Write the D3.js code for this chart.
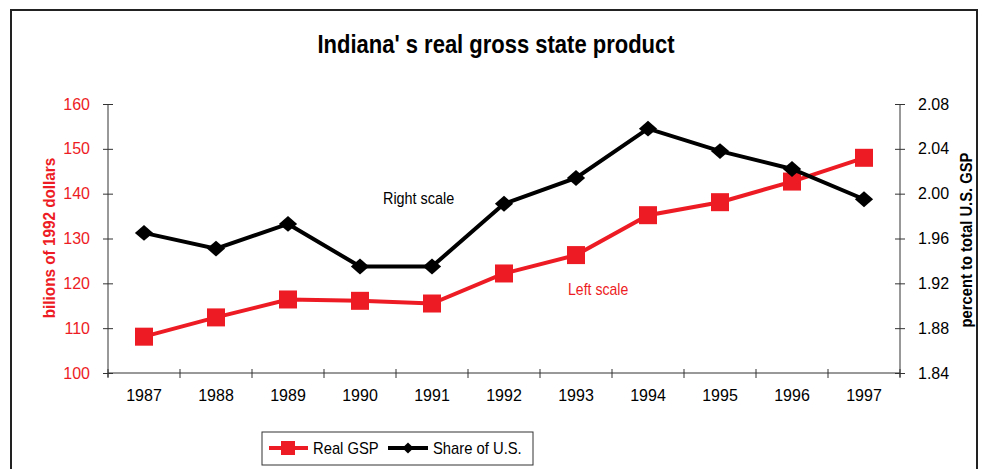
<!DOCTYPE html>
<html>
<head>
<meta charset="utf-8">
<script src="https://cdn.jsdelivr.net/npm/d3@7"></script>
<style>
  body { margin: 0; background: #fff; }
  svg text { font-family: "Liberation Sans", Arial, sans-serif; }
</style>
</head>
<body>
<div id="chart"></div>
<script>
// chart values
var years = ['1987', '1988', '1989', '1990', '1991', '1992', '1993', '1994', '1995', '1996', '1997'];
var realGsp = [108.1, 112.4, 116.4, 116.1, 115.5, 122.2, 126.3, 135.2, 138.1, 142.7, 148.0];
var shareUs = [1.965, 1.951, 1.973, 1.935, 1.935, 1.991, 2.014, 2.058, 2.038, 2.022, 1.995];
var leftTicks = [100, 110, 120, 130, 140, 150, 160];
var rightTicks = [1.84, 1.88, 1.92, 1.96, 2.00, 2.04, 2.08];

var red = '#ed1c24';
var W = 986, H = 469;
var plot = {left: 108, right: 900, top: 104, bottom: 373};

var svg = d3.select('#chart').append('svg')
    .attr('width', W)
    .attr('height', H);

// text squeezed sideways, the original uses a narrow face
function label(x, y, txt, o){
    var g = svg.append('g')
        .attr('transform', 'translate(' + x + ',' + y + ')' + (o.rotate ? ' rotate(' + o.rotate + ')' : '') +
            ' scale(' + (o.sx || 1) + ',1)');
    return g.append('text')
        .attr('text-anchor', o.anchor || 'start')
        .attr('fill', o.fill || '#000')
        .style('font-size', o.size + 'px')
        .style('font-weight', o.bold ? 'bold' : 'normal')
        .text(txt);
}

// outer frame (runs off the bottom of the picture)
svg.append('rect')
    .attr('x', 11).attr('y', 10)
    .attr('width', 966).attr('height', 480)
    .attr('fill', 'none')
    .attr('stroke', '#222')
    .attr('stroke-width', 2);

label(496, 53, "Indiana' s real gross state product", {size: 25, bold: true, sx: 0.88, anchor: 'middle'});

var x = d3.scaleBand().domain(years).range([plot.left, plot.right]);
var yL = d3.scaleLinear().domain([100, 160]).range([plot.bottom, plot.top]);
var yR = d3.scaleLinear().domain([1.84, 2.08]).range([plot.bottom, plot.top]);

// x axis, ticks between categories
var gx = svg.append('g')
    .attr('transform', 'translate(0,' + plot.bottom + ')');
gx.append('line')
    .attr('x1', plot.left).attr('x2', plot.right)
    .attr('stroke', '#333');
var edges = years.map(function(d){ return x(d); }).concat([plot.right]);
gx.selectAll('.xt').data(edges).enter().append('line')
    .attr('x1', function(d){ return d; }).attr('x2', function(d){ return d; })
    .attr('y1', -4).attr('y2', 5)
    .attr('stroke', '#333');
gx.selectAll('.xl').data(years).enter().append('text')
    .attr('x', function(d){ return x(d) + x.bandwidth() / 2; })
    .attr('y', 28)
    .attr('text-anchor', 'middle')
    .style('font-size', '16px')
    .attr('fill', '#000')
    .text(function(d){ return d; });

// left axis
var gl = svg.append('g')
    .attr('transform', 'translate(' + plot.left + ',0)')
    .call(d3.axisLeft(yL).tickValues(leftTicks).tickSize(5).tickPadding(13));
gl.select('.domain').attr('stroke', '#333').attr('d', 'M0,' + plot.top + 'V' + (plot.bottom + 4));
gl.selectAll('.tick line').attr('x1', 5).attr('x2', -5).attr('stroke', '#333');
gl.selectAll('.tick text')
    .attr('fill', red)
    .style('font-size', '16px');

// right axis
var gr = svg.append('g')
    .attr('transform', 'translate(' + plot.right + ',0)')
    .call(d3.axisRight(yR).tickValues(rightTicks).tickSize(5).tickPadding(13)
        .tickFormat(d3.format('.2f')));
gr.select('.domain').attr('stroke', '#333').attr('d', 'M0,' + plot.top + 'V' + (plot.bottom + 4));
gr.selectAll('.tick line').attr('x1', -5).attr('x2', 5).attr('stroke', '#333');
gr.selectAll('.tick text')
    .attr('fill', '#000')
    .style('font-size', '16px');

// axis titles
label(55, 238, 'bilions of 1992 dollars', {size: 17, bold: true, sx: 0.9, rotate: -90, anchor: 'middle', fill: red});
label(972, 240, 'percent to total U.S. GSP', {size: 17, bold: true, sx: 0.87, rotate: -90, anchor: 'middle'});

// lines
var cx = function(i){ return x(years[i]) + x.bandwidth() / 2; };
var lineL = d3.line().x(function(d, i){ return cx(i); }).y(function(d){ return yL(d); });
var lineR = d3.line().x(function(d, i){ return cx(i); }).y(function(d){ return yR(d); });

svg.append('path').datum(realGsp)
    .attr('d', lineL)
    .attr('fill', 'none').attr('stroke', red).attr('stroke-width', 4);
svg.selectAll('.sq').data(realGsp).enter().append('rect')
    .attr('x', function(d, i){ return cx(i) - 9; })
    .attr('y', function(d){ return yL(d) - 9; })
    .attr('width', 18).attr('height', 18)
    .attr('fill', red);

svg.append('path').datum(shareUs)
    .attr('d', lineR)
    .attr('fill', 'none').attr('stroke', '#000').attr('stroke-width', 4);
var diamond = d3.symbol().type(d3.symbolDiamond2).size(160);
svg.selectAll('.dm').data(shareUs).enter().append('path')
    .attr('d', diamond)
    .attr('transform', function(d, i){ return 'translate(' + cx(i) + ',' + yR(d) + ') scale(1.15,1)'; })
    .attr('fill', '#000');

// in-plot notes
label(383, 204, 'Right scale', {size: 16, sx: 0.9});
label(568, 295, 'Left scale', {size: 16, sx: 0.88, fill: red});

// legend
var lg = svg.append('g');
lg.append('rect')
    .attr('x', 262).attr('y', 432)
    .attr('width', 271).attr('height', 33)
    .attr('fill', '#fff')
    .attr('stroke', '#333');
lg.append('line')
    .attr('x1', 269).attr('x2', 308).attr('y1', 448).attr('y2', 448)
    .attr('stroke', red).attr('stroke-width', 4);
lg.append('rect')
    .attr('x', 281).attr('y', 441).attr('width', 14).attr('height', 14)
    .attr('fill', red);
label(313, 454, 'Real GSP', {size: 17, sx: 0.87});
lg.append('line')
    .attr('x1', 388).attr('x2', 428).attr('y1', 448).attr('y2', 448)
    .attr('stroke', '#000').attr('stroke-width', 4);
lg.append('path')
    .attr('d', d3.symbol().type(d3.symbolDiamond2).size(80))
    .attr('transform', 'translate(408,448)')
    .attr('fill', '#000');
label(433, 454, 'Share of U.S.', {size: 17, sx: 0.87});
</script>
</body>
</html>
